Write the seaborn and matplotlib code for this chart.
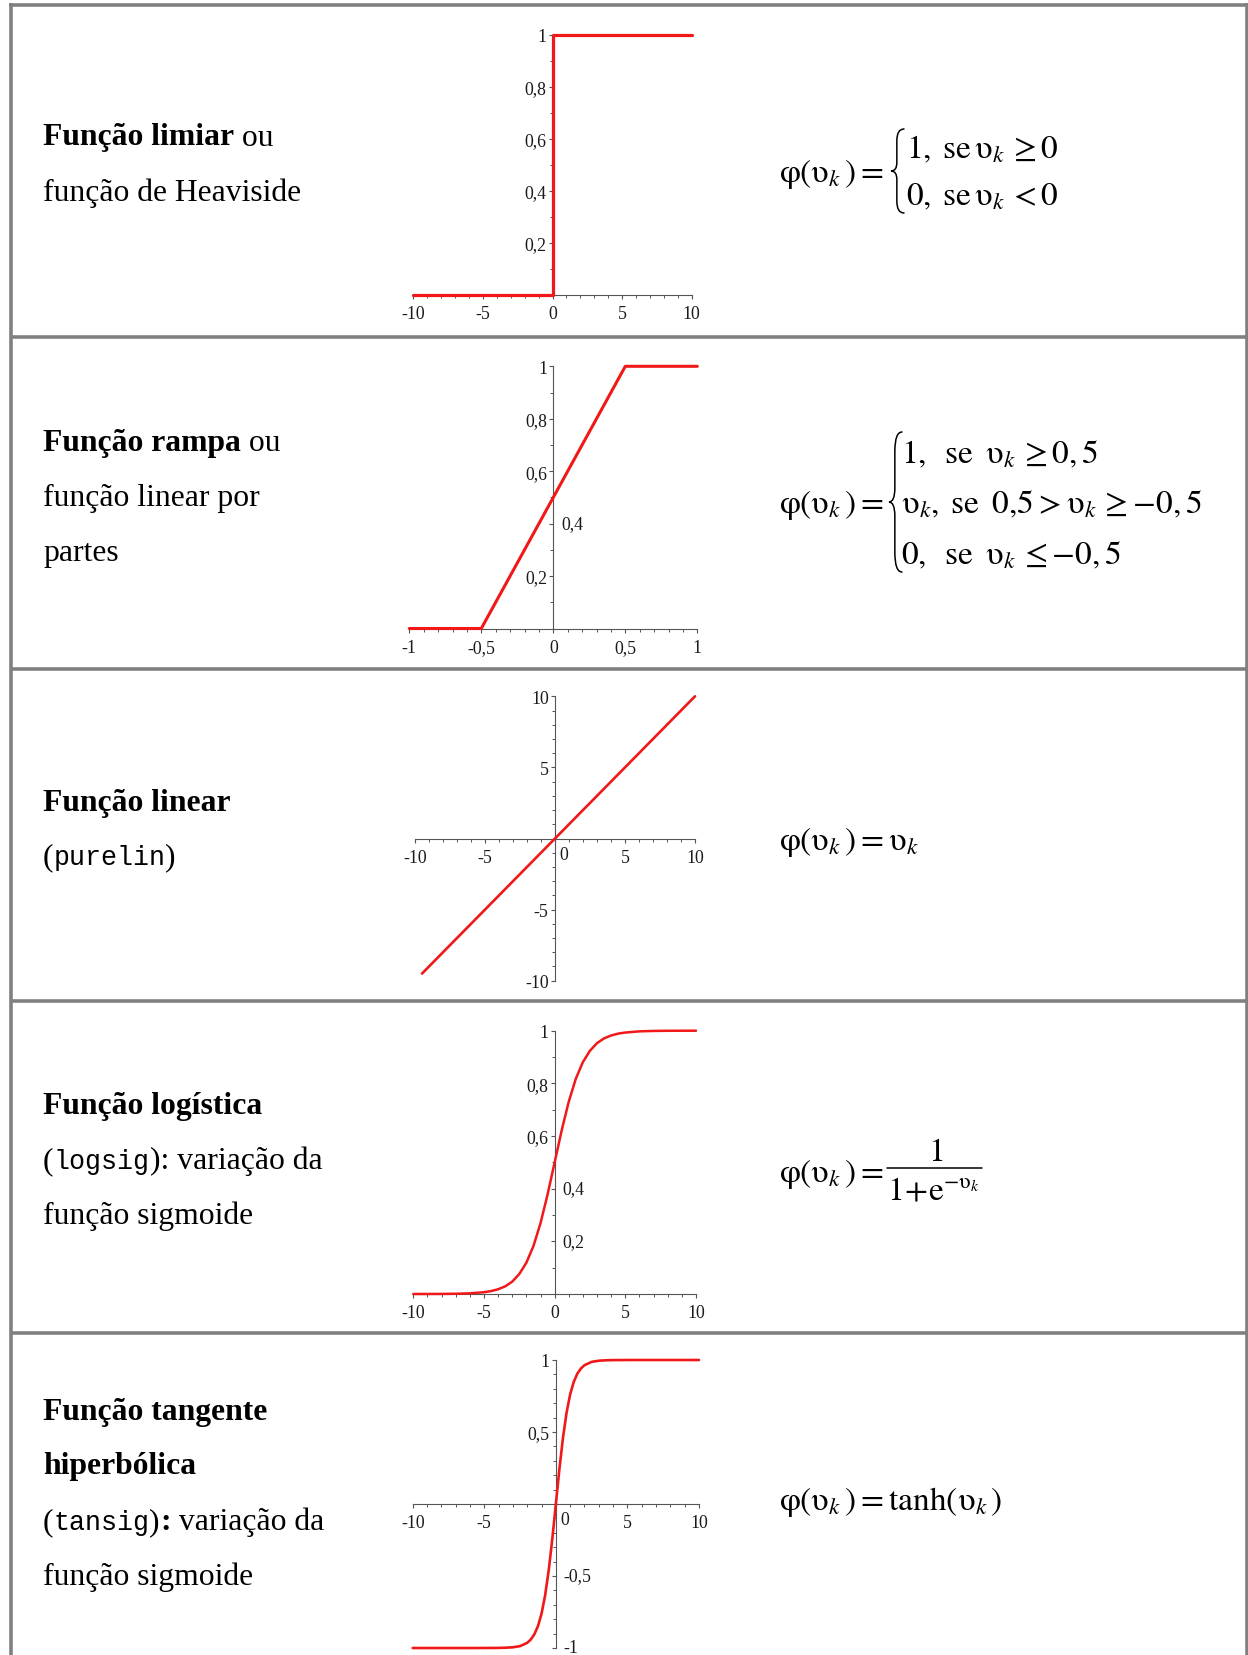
import numpy as np
import pandas as pd
import matplotlib
matplotlib.use("Agg")
import matplotlib.pyplot as plt
import matplotlib.transforms as mtransforms
from matplotlib.path import Path
from matplotlib.patches import PathPatch
from matplotlib.ticker import MultipleLocator
import seaborn as sns

# ---------------- data ----------------
heaviside_x = [-10, 0, 0, 10]
heaviside_y = [0, 0, 1, 1]

ramp_x = [-1, -0.5, 0.5, 1]
ramp_y = [0, 0, 1, 1]

linear_x = [-9.5, 10]
linear_y = [-9.5, 10]

logistic_x = [-10, -9, -8, -7, -6, -5, -4.5, -4, -3.5, -3, -2.5, -2, -1.5, -1, -0.5,
              0, 0.5, 1, 1.5, 2, 2.5, 3, 3.5, 4, 4.5, 5, 6, 7, 8, 9, 10]
logistic_y = [0.00005, 0.0001, 0.0003, 0.0009, 0.0025, 0.0067, 0.011, 0.018, 0.029,
              0.047, 0.076, 0.119, 0.182, 0.269, 0.378, 0.5, 0.622, 0.731, 0.818,
              0.881, 0.924, 0.953, 0.971, 0.982, 0.989, 0.993, 0.9975, 0.9991,
              0.9997, 0.9999, 1.0]

tanh_x = [-10, -8, -6, -5, -4, -3.5, -3, -2.5, -2, -1.75, -1.5, -1.25, -1, -0.75,
          -0.5, -0.25, 0, 0.25, 0.5, 0.75, 1, 1.25, 1.5, 1.75, 2, 2.5, 3, 3.5, 4,
          5, 6, 8, 10]
tanh_y = [-1.0, -1.0, -1.0, -0.9999, -0.9993, -0.998, -0.995, -0.987, -0.964,
          -0.941, -0.905, -0.848, -0.762, -0.635, -0.462, -0.245, 0.0, 0.245, 0.462,
          0.635, 0.762, 0.848, 0.905, 0.941, 0.964, 0.987, 0.995, 0.998, 0.9993,
          0.9999, 1.0, 1.0, 1.0]

# ---------------- style ----------------
sns.set_theme(style="white")
plt.rcParams["font.family"] = ["Liberation Serif", "DejaVu Serif"]
plt.rcParams["mathtext.fontset"] = "stix"

W, H = 1248, 1656
RED = "#f01818"
AXC = "#555555"
LBLC = "#1a1a1a"
GRID = "#808080"
SERIF = "Liberation Serif"
MONO = "Liberation Mono"
FS = 22.8
FS_MONO = 19.2
FS_MATH = 24
FS_TICK = 12.8

fig = plt.figure(figsize=(W / 100, H / 100), dpi=100, facecolor="white")

# overlay in pixel coordinates for the table frame and the text columns
ov = fig.add_axes([0, 0, 1, 1], zorder=-1)
ov.set_xlim(0, W)
ov.set_ylim(H, 0)
ov.axis("off")

# table frame
lw_frame = 3.6 * 72 / 100
ov.plot([8.7, W], [5.5, 5.5], color=GRID, lw=lw_frame, solid_capstyle="butt")
ov.plot([10.5, 10.5], [4, H], color=GRID, lw=lw_frame, solid_capstyle="butt")
ov.plot([1246.5, 1246.5], [4, H], color=GRID, lw=lw_frame, solid_capstyle="butt")
for yy in [338, 669.5, 1002, 1333.5]:
    ov.plot([10.5, W], [yy, yy], color=GRID, lw=lw_frame, solid_capstyle="butt")


def make_axes(px0, px1, xmin, xmax, pytop, pybot, ymin, ymax):
    ax = fig.add_axes([px0 / W, 1 - pybot / H, (px1 - px0) / W, (pybot - pytop) / H])
    ax.patch.set_alpha(0)
    return ax, (xmin, xmax, ymin, ymax)


def style_axes(ax, lims, xmajor, xlabels, xminor, ymajor, ylabels, yminor):
    xmin, xmax, ymin, ymax = lims
    ax.set_xlim(xmin, xmax)
    ax.set_ylim(ymin, ymax)
    for s in ["top", "right"]:
        ax.spines[s].set_visible(False)
    ax.spines["left"].set_position(("data", 0))
    ax.spines["bottom"].set_position(("data", 0))
    for s in ["left", "bottom"]:
        ax.spines[s].set_color(AXC)
        ax.spines[s].set_linewidth(0.8)
    ax.xaxis.set_ticks_position("bottom")
    ax.yaxis.set_ticks_position("left")
    ax.set_xticks(xmajor, xlabels)
    ax.set_yticks(ymajor, ylabels)
    ax.xaxis.set_minor_locator(MultipleLocator(xminor))
    ax.yaxis.set_minor_locator(MultipleLocator(yminor))
    ax.tick_params(which="major", direction="out", length=3.0, width=0.8,
                   color=AXC, labelsize=FS_TICK, labelcolor=LBLC)
    ax.tick_params(which="minor", direction="out", length=2.0, width=0.7, color=AXC)
    ax.tick_params(axis="x", which="major", pad=4.5)
    ax.tick_params(axis="y", which="major", pad=1.5)
    ax.set_xlabel("")
    ax.set_ylabel("")
    for ln in ax.lines:
        ln.set_clip_on(False)
        ln.set_zorder(5)


def right_label(ax, yval, text):
    tr = mtransforms.offset_copy(ax.transData, fig=fig, x=8, y=0, units="dots")
    ax.text(0, yval, text, transform=tr, ha="left", va="center",
            fontsize=FS_TICK, color=LBLC)


def zero_xlabel(ax):
    tr = mtransforms.offset_copy(ax.transData, fig=fig, x=9, y=-7.5, units="dots")
    ax.text(0, 0, "0", transform=tr, ha="center", va="top",
            fontsize=FS_TICK, color=LBLC)


def curve(ax, xs, ys, lw):
    df = pd.DataFrame({"x": xs, "y": ys})
    sns.lineplot(data=df, x="x", y="y", ax=ax, estimator=None, sort=False,
                 color=RED, linewidth=lw)


# ---- 1: Heaviside ----
ax1, l1 = make_axes(413.3, 691.7, -10, 10, 36, 296, 0, 1)
curve(ax1, heaviside_x, heaviside_y, 2.3)
style_axes(ax1, l1, [-10, -5, 0, 5, 10], ["-10", "-5", "0", "5", "10"], 1,
           [0.2, 0.4, 0.6, 0.8, 1], ["0,2", "0,4", "0,6", "0,8", "1"], 0.1)

# ---- 2: ramp ----
ax2, l2 = make_axes(409.3, 697.3, -1, 1, 367.3, 629.5, 0, 1)
curve(ax2, ramp_x, ramp_y, 2.2)
style_axes(ax2, l2, [-1, -0.5, 0, 0.5, 1], ["-1", "-0,5", "0", "0,5", "1"], 0.1,
           [0.2, 0.4, 0.6, 0.8, 1], ["0,2", "", "0,6", "0,8", "1"], 0.1)
right_label(ax2, 0.4, "0,4")

# ---- 3: linear ----
ax3, l3 = make_axes(415, 695, -10, 10, 697.3, 981.7, -10, 10)
curve(ax3, linear_x, linear_y, 1.9)
style_axes(ax3, l3, [-10, -5, 0, 5, 10], ["-10", "-5", "", "5", "10"], 1,
           [-10, -5, 5, 10], ["-10", "-5", "5", "10"], 1)
zero_xlabel(ax3)

# ---- 4: logistic ----
ax4, l4 = make_axes(413.3, 696, -10, 10, 1031.7, 1295, 0, 1)
curve(ax4, logistic_x, logistic_y, 1.8)
style_axes(ax4, l4, [-10, -5, 0, 5, 10], ["-10", "-5", "0", "5", "10"], 1,
           [0.2, 0.4, 0.6, 0.8, 1], ["", "", "0,6", "0,8", "1"], 0.1)
right_label(ax4, 0.4, "0,4")
right_label(ax4, 0.2, "0,2")

# ---- 5: tanh ----
ax5, l5 = make_axes(412.7, 699, -10, 10, 1361, 1649, -1, 1)
curve(ax5, tanh_x, tanh_y, 1.9)
style_axes(ax5, l5, [-10, -5, 0, 5, 10], ["-10", "-5", "", "5", "10"], 1,
           [-1, -0.5, 0.5, 1], ["", "", "0,5", "1"], 0.1)
right_label(ax5, -0.5, "-0,5")
right_label(ax5, -1, "-1")
zero_xlabel(ax5)

# ---------------- left column text ----------------
renderer = fig.canvas.get_renderer()
REG = dict(fontfamily=SERIF, fontsize=FS, color="black")
BOLD = dict(fontfamily=SERIF, fontsize=FS, fontweight="bold", color="black")
MON = dict(fontfamily=MONO, fontsize=FS_MONO, color="black")


def draw_runs(x, y, runs):
    for txt, st in runs:
        t = ov.text(x, y, txt, ha="left", va="baseline", **st)
        bb = t.get_window_extent(renderer=renderer)
        x += bb.width


TX = 43
rows_text = [
    (145.5, [("Função limiar", BOLD), (" ou", REG)]),
    (201, [("função de Heaviside", REG)]),
    (451, [("Função rampa", BOLD), (" ou", REG)]),
    (506, [("função linear por", REG)]),
    (561, [("partes", REG)]),
    (811.5, [("Função linear", BOLD)]),
    (865.5, [("(", REG), ("purelin", MON), (")", REG)]),
    (1114, [("Função logística", BOLD)]),
    (1169.5, [("(", REG), ("logsig", MON), ("): variação da", REG)]),
    (1224.5, [("função sigmoide", REG)]),
    (1420, [("Função tangente", BOLD)]),
    (1474, [("hiperbólica", BOLD)]),
    (1530, [("(", REG), ("tansig", MON), (")", REG), (":", BOLD), (" variação da", REG)]),
    (1585, [("função sigmoide", REG)]),
]
for yb, runs in rows_text:
    draw_runs(TX, yb, runs)

# ---------------- formulas ----------------
MATH = dict(fontsize=FS_MATH, color="black", ha="left", va="baseline")
CEN = dict(fontsize=FS_MATH, color="black", ha="center", va="baseline")
PHI = r"\mathrm{\varphi}"
UPS = r"\mathrm{\upsilon}"
LHS = r"$%s(%s_k\,)=$" % (PHI, UPS)


def brace(x0, x1, y0, y1, lw=1.1):
    h = y1 - y0
    ym = (y0 + y1) / 2
    xm = x0 + (x1 - x0) * 0.45
    verts = [(x1, y0), (xm, y0), (xm, y0 + 0.14 * h),
             (xm, ym - 0.1 * h), (xm, ym), (x0, ym),
             (xm, ym), (xm, ym + 0.1 * h),
             (xm, y1 - 0.14 * h), (xm, y1), (x1, y1)]
    codes = [Path.MOVETO, Path.CURVE3, Path.CURVE3, Path.LINETO, Path.CURVE3,
             Path.CURVE3, Path.CURVE3, Path.CURVE3, Path.LINETO, Path.CURVE3,
             Path.CURVE3]
    ov.add_patch(PathPatch(Path(verts, codes), fill=False, lw=lw, color="black",
                           capstyle="round"))


# row 1
ov.text(779, 182, LHS, **MATH)
brace(891, 904, 130, 214)
ov.text(906, 158, r"$1,\;\mathrm{se}\,%s_k\,\geq 0$" % UPS, **MATH)
ov.text(906, 205, r"$0,\;\mathrm{se}\,%s_k\,< 0$" % UPS, **MATH)

# row 2
ov.text(779, 513, LHS, **MATH)
brace(889, 902, 433, 573)
ov.text(901, 463, r"$1,\;\;\mathrm{se}\;\;%s_k\,\geq 0,5$" % UPS, **MATH)
ov.text(901, 513, r"$%s_k,\;\mathrm{se}\;\;0{,}5>%s_k\,\geq{-}0,5$" % (UPS, UPS), **MATH)
ov.text(901, 564, r"$0,\;\;\mathrm{se}\;\;%s_k\,\leq{-}0,5$" % UPS, **MATH)

# row 3
ov.text(779, 850, r"$%s(%s_k\,)=%s_k$" % (PHI, UPS, UPS), **MATH)

# row 4: fraction built from separate pieces
ov.text(779, 1182, LHS, **MATH)
ov.plot([887, 982], [1169, 1169], color="black", lw=1.1)
ov.text(936, 1161, r"$1$", **CEN)
ov.text(894.5, 1200, r"$1$", **CEN)
ov.text(915.5, 1200, r"$+$", **CEN)
ov.text(936, 1200, r"$\mathrm{e}$", **CEN)
ov.text(943, 1188, r"$-%s_k$" % UPS, fontsize=16, color="black", ha="left",
        va="baseline")

# row 5
ov.text(779, 1510, r"$%s(%s_k\,)=\mathrm{tanh}(%s_k\,)$" % (PHI, UPS, UPS), **MATH)

fig.savefig("out.png", dpi=100, facecolor="white")
